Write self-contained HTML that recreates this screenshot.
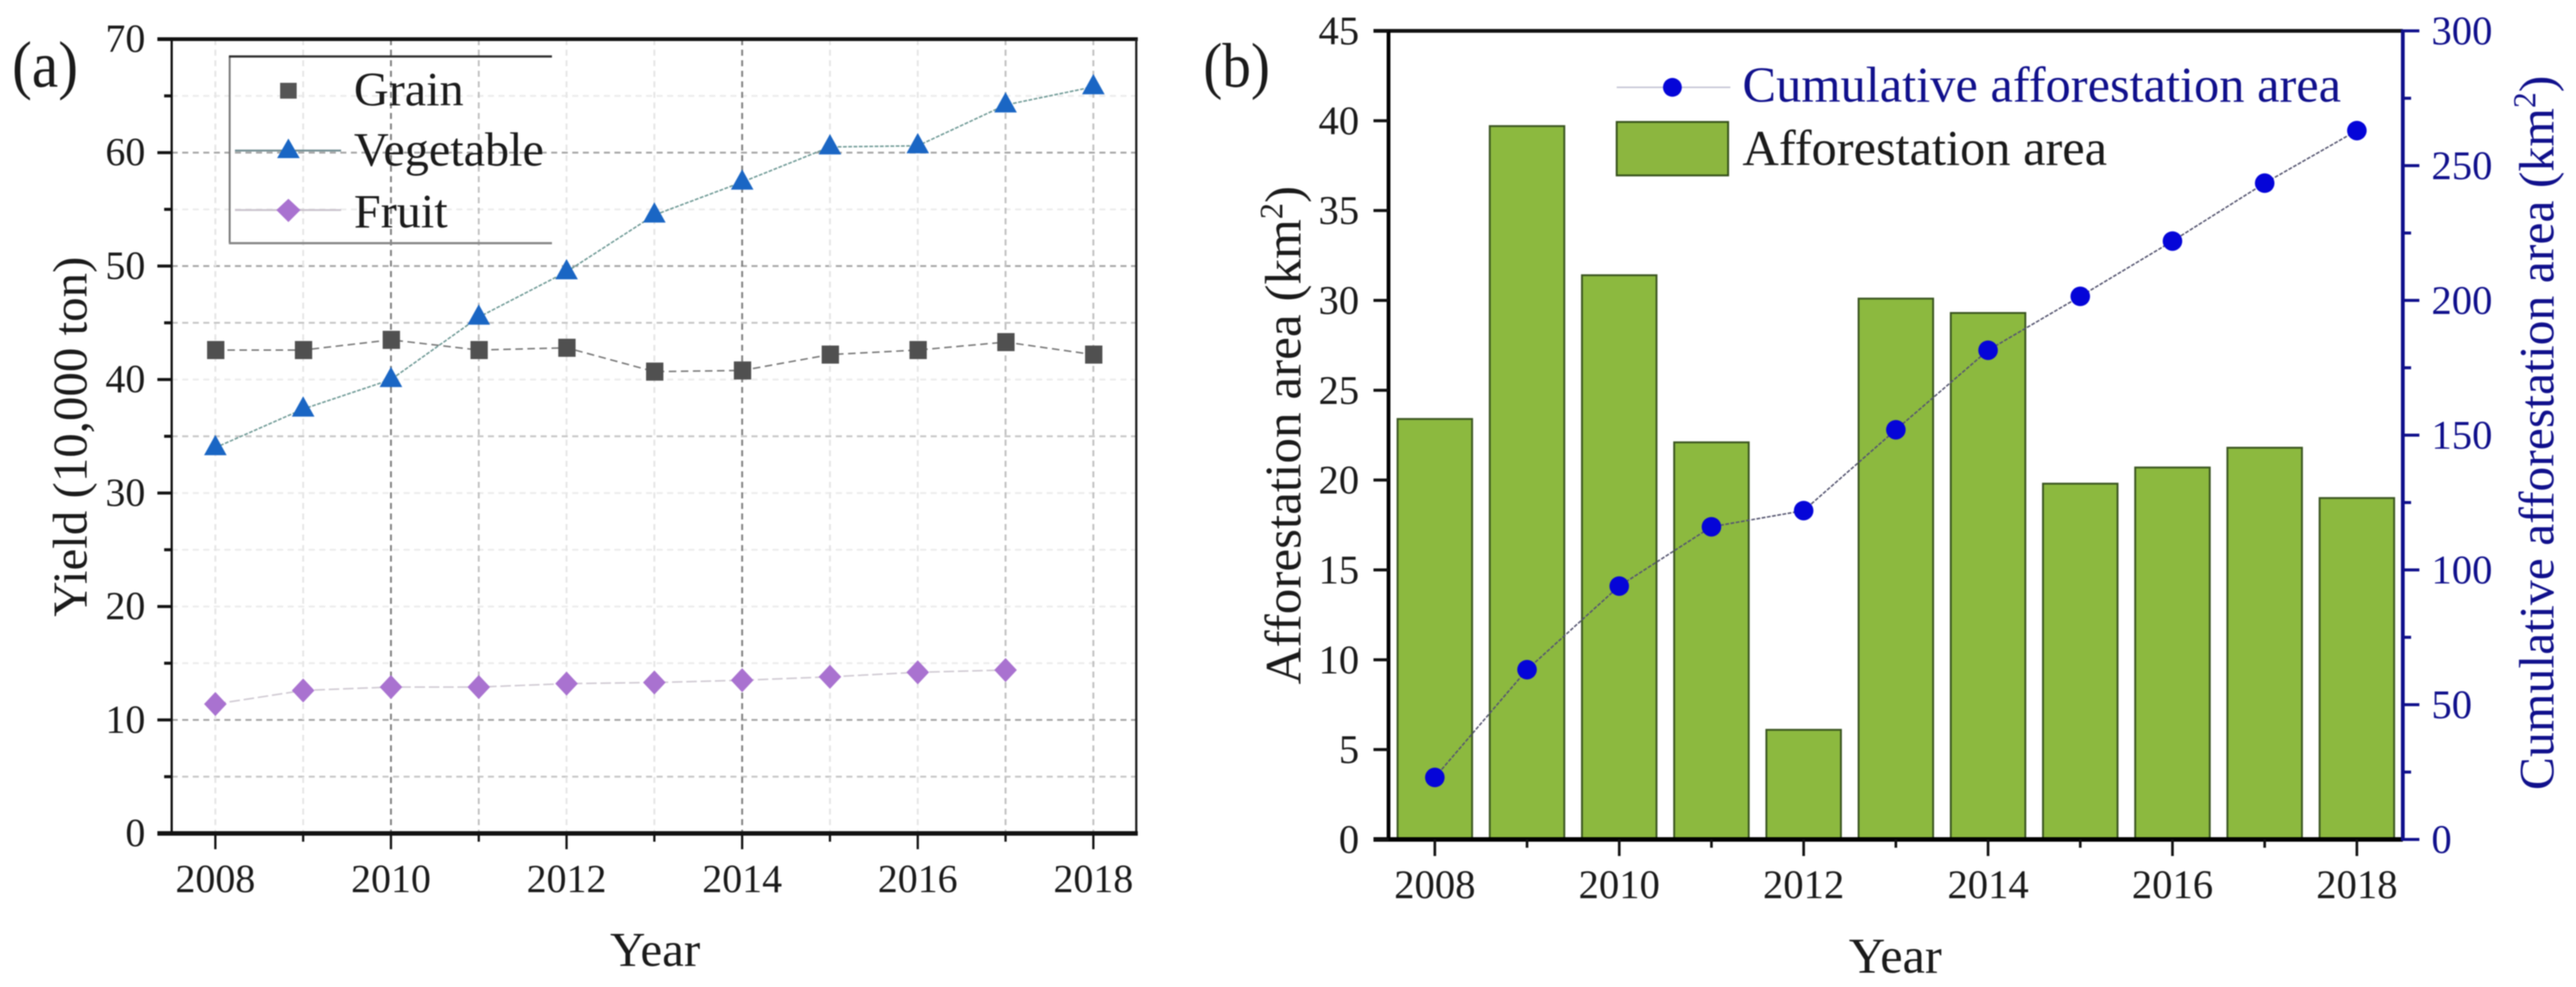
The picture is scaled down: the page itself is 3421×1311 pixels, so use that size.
<!DOCTYPE html>
<html lang="en">
<head>
<meta charset="utf-8">
<title>Yield and afforestation charts</title>
<style>
html,body{margin:0;padding:0;background:#fff;width:3421px;height:1311px;overflow:hidden}
svg{display:block;filter:blur(0.9px)}
text{font-family:"Liberation Serif",serif;fill:#1a1a1a}
.blue{fill:#10108c}
</style>
</head>
<body>
<svg id="fig" width="3421" height="1311" viewBox="0 0 3421 1311" xmlns="http://www.w3.org/2000/svg">
  <rect width="3421" height="1311" fill="#fff"/>
  <g id="a-grid"></g>
  <g id="a-series"></g>
  <g id="a-axes"></g>
  <g id="b-bars"></g>
  <g id="b-axes"></g>
  <g id="b-line"></g>

  <text transform="translate(16,115) scale(1,1.1)" font-size="79">(a)</text>
  <text transform="translate(1598,115) scale(1,1.1)" font-size="76">(b)</text>

  <text x="870" y="1283" font-size="65" text-anchor="middle">Year</text>
  <text transform="translate(115,580) rotate(-90)" font-size="65" text-anchor="middle">Yield (10,000 ton)</text>
  <text x="2517" y="1292" font-size="67" text-anchor="middle">Year</text>
  <text transform="translate(1727,578) rotate(-90)" font-size="68" text-anchor="middle">Afforestation area (km<tspan font-size="43" dy="-24">2</tspan><tspan dy="24">)</tspan></text>
  <text class="blue" transform="translate(3391,575) rotate(-90)" font-size="66" text-anchor="middle">Cumulative afforestation area (km<tspan font-size="42" dy="-24">2</tspan><tspan dy="24">)</tspan></text>

  <g>
    <path d="M305 75V323" stroke="#777" stroke-width="2.5" fill="none"/>
    <path d="M304 75H733" stroke="#333" stroke-width="3" fill="none"/>
    <path d="M304 323H733" stroke="#888" stroke-width="3" fill="none"/>
    <rect x="372" y="110" width="22" height="21" fill="#555"/>
    <text x="470" y="140" font-size="64">Grain</text>
    <path d="M312 200H453" stroke="#6f8a90" stroke-width="2.5"/>
    <path d="M383 184L398 210H368Z" fill="#1a66c4"/>
    <text x="470" y="220" font-size="64">Vegetable</text>
    <path d="M312 279H453" stroke="#c9c2cc" stroke-width="2.5"/>
    <path d="M383 264L399 279L383 295L367 279Z" fill="#a972d0"/>
    <text x="470" y="302" font-size="64">Fruit</text>
  </g>

  <g>
    <path d="M2147 116H2298" stroke="#c4c4d4" stroke-width="2"/>
    <ellipse cx="2221" cy="116" rx="12.5" ry="12.5" fill="#0505d8"/>
    <text class="blue" x="2314" y="135" font-size="67">Cumulative afforestation area</text>
    <rect x="2147" y="162" width="148" height="71" fill="#8cb63f" stroke="#35501a" stroke-width="2.5"/>
    <text x="2314" y="219" font-size="67">Afforestation area</text>
  </g>
</svg>

<script>
// Shared categories
const years = [2008, 2009, 2010, 2011, 2012, 2013, 2014, 2015, 2016, 2017, 2018];
const xTickLabels = ['2008', '2010', '2012', '2014', '2016', '2018'];

// Panel (a) values
const grainYield = [42.6, 42.6, 43.5, 42.6, 42.8, 40.7, 40.8, 42.2, 42.6, 43.3, 42.2];
const vegetableYield = [34.0, 37.4, 40.0, 45.5, 49.5, 54.5, 57.4, 60.5, 60.6, 64.2, 65.8];
const fruitYield = [11.4, 12.6, 12.9, 12.9, 13.2, 13.3, 13.5, 13.8, 14.2, 14.4];
const yieldTicks = [0, 10, 20, 30, 40, 50, 60, 70];
const yieldMinorTicks = [5, 15, 25, 35, 45, 55, 65];

// Grid lines that read darker in the reference
const darkGridValues = [10, 50, 60];
const midGridValues = [5, 35, 45];
const darkGridYears = [2010, 2014];
const midGridYears = [2011, 2017, 2018];

// Panel (b) values
const afforestationArea = [23.4, 39.7, 31.4, 22.1, 6.1, 30.1, 29.3, 19.8, 20.7, 21.8, 19.0];
const cumulativeArea = [23, 63, 94, 116, 122, 152, 181.5, 201.5, 222, 243.5, 263];
const areaTicks = [0, 5, 10, 15, 20, 25, 30, 35, 40, 45];
const cumulativeTicks = [0, 50, 100, 150, 200, 250, 300];
const cumulativeMinorTicks = [25, 75, 125, 175, 225, 275];

const NS = 'http://www.w3.org/2000/svg';
function mk(parent, tag, attrs, txt) {
  const n = document.createElementNS(NS, tag);
  for (const k in attrs) n.setAttribute(k, attrs[k]);
  if (txt !== undefined) n.textContent = txt;
  parent.appendChild(n);
  return n;
}
function linear(d0, d1, r0, r1) {
  return v => r0 + (v - d0) * (r1 - r0) / (d1 - d0);
}

// Axis functions
const xA = linear(2008, 2018, 286, 1452);
const yA = linear(0, 70, 1107, 52);
const xB = linear(2008, 2018, 1905.5, 3130);
const yB = linear(0, 45, 1115, 41);
const yB2 = linear(0, 300, 1115, 41);

const aGrid = document.getElementById('a-grid');
const aSeries = document.getElementById('a-series');
const aAxes = document.getElementById('a-axes');
const bBars = document.getElementById('b-bars');
const bAxes = document.getElementById('b-axes');
const bLine = document.getElementById('b-line');

const A_L = 228, A_R = 1509, B_L = 1844, B_R = 3191;

/* ---------- Panel (a) grid ---------- */
function hGridColor(v) {
  if (darkGridValues.includes(v)) return '#a6a6a6';
  if (midGridValues.includes(v)) return '#c6c6c6';
  return '#ececec';
}
function vGridColor(yr) {
  if (darkGridYears.includes(yr)) return '#808080';
  if (midGridYears.includes(yr)) return '#c0c0c0';
  return '#e6e6e6';
}
yieldTicks.slice(1, -1).concat(yieldMinorTicks).forEach(v => {
  const g = mk(aGrid, 'line', {x1: A_L, x2: A_R, y1: yA(v), y2: yA(v), stroke: hGridColor(v), 'stroke-width': 2.5, 'stroke-dasharray': '8 6'});
  
  
});
years.forEach(yr => {
  const g = mk(aGrid, 'line', {x1: xA(yr), x2: xA(yr), y1: 52, y2: 1107, stroke: vGridColor(yr), 'stroke-width': 2.5, 'stroke-dasharray': '8 6'});
  
  
});

/* ---------- Panel (a) series ---------- */
function polyPoints(vals, xf, yf) {
  return vals.map((v, i) => xf(years[i]) + ',' + yf(v)).join(' ');
}
const grainLine = mk(aSeries, 'polyline', {points: polyPoints(grainYield, xA, yA), fill: 'none', stroke: '#777', 'stroke-width': 2, 'stroke-dasharray': '10 6'});


const vegLine = mk(aSeries, 'polyline', {points: polyPoints(vegetableYield, xA, yA), fill: 'none', stroke: '#6f9a96', 'stroke-width': 2, 'stroke-dasharray': '5 2'});


const fruitLine = mk(aSeries, 'polyline', {points: polyPoints(fruitYield, xA, yA), fill: 'none', stroke: '#cfc9d2', 'stroke-width': 2, 'stroke-dasharray': '14 5'});



grainYield.forEach((v, i) => {
  const m = mk(aSeries, 'rect', {x: xA(years[i]) - 11, y: yA(v) - 12, width: 23, height: 24, fill: '#505050'});
  
  
});
vegetableYield.forEach((v, i) => {
  const x = xA(years[i]), y = yA(v);
  const m = mk(aSeries, 'path', {d: `M${x} ${y - 17}L${x + 15} ${y + 10}H${x - 15}Z`, fill: '#1a66c4'});
  
  
});
fruitYield.forEach((v, i) => {
  const x = xA(years[i]), y = yA(v);
  const m = mk(aSeries, 'path', {d: `M${x} ${y - 16}L${x + 15} ${y}L${x} ${y + 16}L${x - 15} ${y}Z`, fill: '#a972d0'});
  
  
});

/* ---------- Panel (a) axes ---------- */
const aTop = mk(aAxes, 'line', {x1: 209, x2: A_R + 2, y1: 52, y2: 52, stroke: '#111', 'stroke-width': 5});


const aRight = mk(aAxes, 'line', {x1: A_R, x2: A_R, y1: 52, y2: 1107, stroke: '#222', 'stroke-width': 3});


const aLeft = mk(aAxes, 'line', {x1: A_L, x2: A_L, y1: 52, y2: 1107, stroke: '#111', 'stroke-width': 3});


const aBottom = mk(aAxes, 'line', {x1: 209, x2: A_R + 2, y1: 1107, y2: 1107, stroke: '#111', 'stroke-width': 6});



yieldTicks.forEach(v => {
  const t = mk(aAxes, 'line', {x1: 209, x2: A_L, y1: yA(v), y2: yA(v), stroke: '#111', 'stroke-width': 4});
  
  
  const l = mk(aAxes, 'text', {x: 193, y: yA(v) + 17, 'font-size': 53, 'text-anchor': 'end'}, String(v));
  
  
});
yieldMinorTicks.forEach(v => {
  const t = mk(aAxes, 'line', {x1: 218, x2: A_L, y1: yA(v), y2: yA(v), stroke: '#111', 'stroke-width': 4});
  
  
});
years.forEach(yr => {
  const major = xTickLabels.includes(String(yr));
  const t = mk(aAxes, 'line', {x1: xA(yr), x2: xA(yr), y1: 1107, y2: major ? 1128 : 1118, stroke: '#111', 'stroke-width': 3});
  
  
});
xTickLabels.forEach(s => {
  const l = mk(aAxes, 'text', {x: xA(Number(s)), y: 1185, 'font-size': 53, 'text-anchor': 'middle'}, s);
  
  
});

/* ---------- Panel (b) bars ---------- */
afforestationArea.forEach((v, i) => {
  const x = xB(years[i]);
  const b = mk(bBars, 'rect', {x: x - 49.5, y: yB(v), width: 99, height: yB(0) - yB(v), fill: '#8cb93f', stroke: '#3a5520', 'stroke-width': 2.5});
  
  
});

/* ---------- Panel (b) axes ---------- */
const bTop = mk(bAxes, 'line', {x1: 1824, x2: B_R, y1: 41, y2: 41, stroke: '#111', 'stroke-width': 5});


const bLeft = mk(bAxes, 'line', {x1: B_L, x2: B_L, y1: 41, y2: 1115, stroke: '#000', 'stroke-width': 5});


const bBottom = mk(bAxes, 'line', {x1: 1824, x2: B_R, y1: 1115, y2: 1115, stroke: '#000', 'stroke-width': 6});


const bRight = mk(bAxes, 'line', {x1: B_R, x2: B_R, y1: 39, y2: 1117, stroke: '#10108c', 'stroke-width': 5});



areaTicks.forEach(v => {
  const t = mk(bAxes, 'line', {x1: 1824, x2: B_L, y1: yB(v), y2: yB(v), stroke: '#111', 'stroke-width': 4});
  
  
  const l = mk(bAxes, 'text', {x: 1805, y: yB(v) + 18, 'font-size': 54, 'text-anchor': 'end'}, String(v));
  
  
});
cumulativeTicks.forEach(v => {
  const t = mk(bAxes, 'line', {x1: B_R, x2: B_R + 22, y1: yB2(v), y2: yB2(v), stroke: '#10108c', 'stroke-width': 4});
  
  
  const l = mk(bAxes, 'text', {x: 3229, y: yB2(v) + 18, 'font-size': 54, 'text-anchor': 'start', class: 'blue'}, String(v));
  
  
});
cumulativeMinorTicks.forEach(v => {
  const t = mk(bAxes, 'line', {x1: B_R, x2: B_R + 11, y1: yB2(v), y2: yB2(v), stroke: '#10108c', 'stroke-width': 4});
  
  
});
years.forEach(yr => {
  const major = xTickLabels.includes(String(yr));
  const t = mk(bAxes, 'line', {x1: xB(yr), x2: xB(yr), y1: 1115, y2: major ? 1137 : 1126, stroke: '#111', 'stroke-width': 3.5});
  
  
});
xTickLabels.forEach(s => {
  const l = mk(bAxes, 'text', {x: xB(Number(s)), y: 1193, 'font-size': 54, 'text-anchor': 'middle'}, s);
  
  
});

/* ---------- Panel (b) line ---------- */
const cumLine = mk(bLine, 'polyline', {points: polyPoints(cumulativeArea, xB, yB2), fill: 'none', stroke: '#555570', 'stroke-width': 2, 'stroke-dasharray': '5 2'});


cumulativeArea.forEach((v, i) => {
  const m = mk(bLine, 'circle', {cx: xB(years[i]), cy: yB2(v), r: 13, fill: '#0505d8'});
  
  
});
</script>
</body>
</html>
